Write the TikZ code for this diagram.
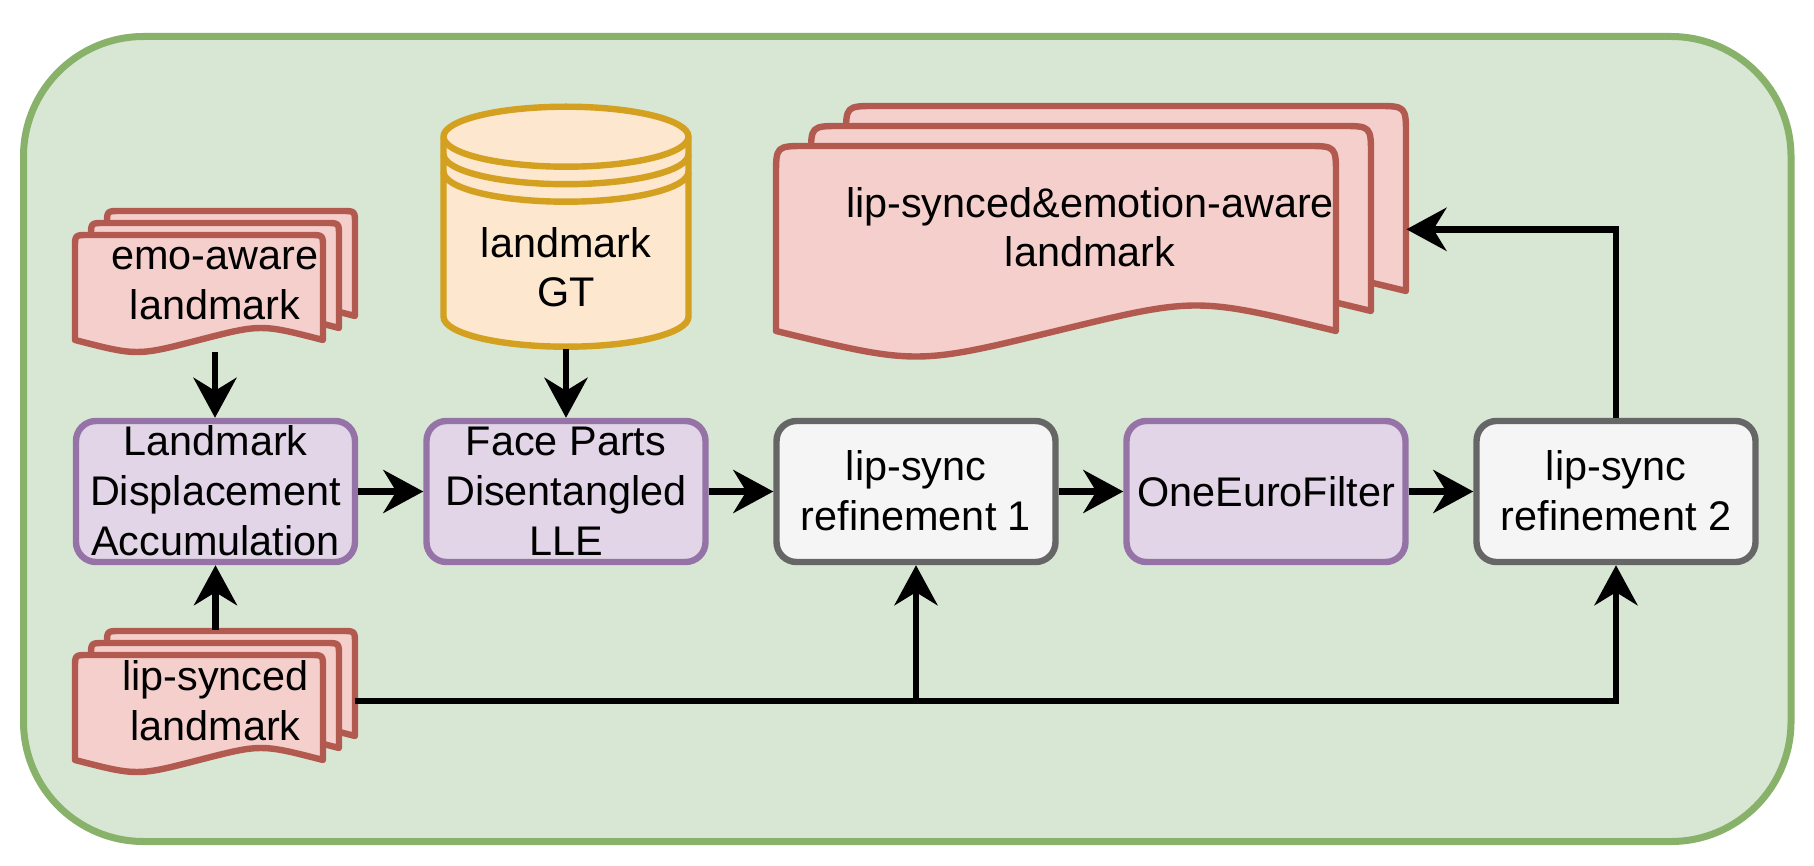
\documentclass[tikz,border=0pt]{standalone}
\usepackage{fontspec}
\setmainfont{Liberation Sans}
\usetikzlibrary{arrows.meta}
\definecolor{ofill}{HTML}{D7E7D4}
\definecolor{ostroke}{HTML}{88B16A}
\definecolor{pfill}{HTML}{E1D5E7}
\definecolor{pstroke}{HTML}{9673A6}
\definecolor{gfill}{HTML}{F5F5F5}
\definecolor{gstroke}{HTML}{666666}
\definecolor{dfill}{HTML}{F5CFCC}
\definecolor{dstroke}{HTML}{B35A50}
\definecolor{cfill}{HTML}{FDE7CE}
\definecolor{cstroke}{HTML}{D4A020}
\newcommand\diafont{\fontsize{20.7pt}{24.8pt}\selectfont}
% #1 x0, #2 y0 (top), #3 width, #4 y1 (bottom ends), #5 corner radius, #6 wave amplitude
\newcommand\docshape[6]{%
  \filldraw[docsty] (#1,#4) -- (#1,#2+#5) .. controls (#1,#2) .. (#1+#5,#2)
    -- (#1+#3-#5,#2) .. controls (#1+#3,#2) .. (#1+#3,#2+#5) -- (#1+#3,#4)
    .. controls (#1+0.75*#3,#4-2*#6) .. (#1+0.5*#3,#4)
    .. controls (#1+0.25*#3,#4+2*#6) .. (#1,#4) -- cycle;}
\begin{document}
\begin{tikzpicture}[x=0.5pt,y=-0.5pt,
  lbl/.style={inner sep=0pt, align=center, font=\diafont,
    text depth=0pt, text height=#1},
  lbl/.default=35pt,
  box/.style={rounded corners=10pt, line width=3.2pt, minimum width=139.5pt,
    minimum height=70.5pt},
  pbox/.style={box, draw=pstroke, fill=pfill},
  gbox/.style={box, draw=gstroke, fill=gfill},
  docsty/.style={draw=dstroke, fill=dfill, line width=3.2pt, line join=round},
  cylsty/.style={draw=cstroke, fill=cfill, line width=3.2pt},
  arr/.style={line width=3.3pt, -{Stealth[length=20pt,width=21.5pt,inset=6.5pt]}}]
\useasboundingbox (0,0) rectangle (1814,866);
% outer container
\draw[line width=3.5pt, draw=ostroke, fill=ofill, rounded corners=60pt]
  (23.5,36.5) rectangle (1791,841.5);
% emo-aware landmark stack
\docshape{107}{211}{248}{316}{13}{8}
\docshape{91}{223}{248}{328}{13}{8}
\docshape{75}{235}{248}{340}{13}{8}
% lip-synced landmark stack
\docshape{107}{631}{248}{736}{13}{8}
\docshape{91}{643}{248}{748}{13}{8}
\docshape{75}{655}{248}{760}{13}{8}
% output stack
\docshape{846}{106}{560}{291}{30}{17}
\docshape{811}{126}{560}{311}{30}{17}
\docshape{776}{146}{560}{331}{30}{17}
% cylinder
\filldraw[cylsty] (443.5,136.7) -- (443.5,316.7)
  arc[start angle=180, end angle=0, x radius=122.5, y radius=30]
  -- (688.5,136.7)
  arc[start angle=0, end angle=-180, x radius=122.5, y radius=30] -- cycle;
\draw[cylsty, fill=none] (443.5,136.7) arc[start angle=180, end angle=0, x radius=122.5, y radius=30];
\draw[cylsty, fill=none] (443.5,154.2) arc[start angle=180, end angle=0, x radius=122.5, y radius=30];
\draw[cylsty, fill=none] (443.5,171.7) arc[start angle=180, end angle=0, x radius=122.5, y radius=30];
% labels of the stacks / cylinder
\node[lbl=34.5pt, minimum width=140pt, minimum height=67.2pt] (emo) at (215,284.8) {emo-aware\\landmark};
\node[lbl=35pt, minimum width=139.5pt, minimum height=75pt] (lip) at (215.5,705) {lip-synced\\landmark};
\node[lbl=34.9pt, minimum width=122.5pt, minimum height=77.2pt] (gt) at (566,271.8) {landmark\\GT};
\node[lbl=35pt, minimum width=316pt, minimum height=92pt] (out) at (1090,232) {lip-synced\&emotion-aware\\landmark};
% process boxes
\node[pbox, lbl=63.5pt] (lmk) at (215.5,491.5) {Landmark\\Displacement\\Accumulation};
\node[pbox, lbl=63.5pt] (fp) at (566,491.5) {Face Parts\\Disentangled\\LLE};
\node[gbox, lbl=38.7pt] (r1) at (916,491.5) {lip-sync\\refinement 1};
\node[pbox, lbl=14.5pt] (oef) at (1266,491.5) {OneEuroFilter};
\node[gbox, lbl=38.7pt] (r2) at (1616,491.5) {lip-sync\\refinement 2};
% connectors
\coordinate (bus) at ([yshift=2.1pt]lip.east);
\coordinate (outin) at ([yshift=1.35pt]out.east);
\draw[arr] (emo.south) -- (emo.south |- lmk.north);
\draw[arr] (gt.south) -- (fp.north);
\draw[arr] (lip.north) -- (lip.north |- lmk.south);
\draw[arr] (lmk.east) -- (fp.west);
\draw[arr] (fp.east) -- (r1.west);
\draw[arr] (r1.east) -- (oef.west);
\draw[arr] (oef.east) -- (r2.west);
\draw[arr] (bus) -| (r2.south);
\draw[arr] (r1.south |- bus) -- (r1.south);
\draw[arr] (r2.north) |- (outin);
\end{tikzpicture}
\end{document}
